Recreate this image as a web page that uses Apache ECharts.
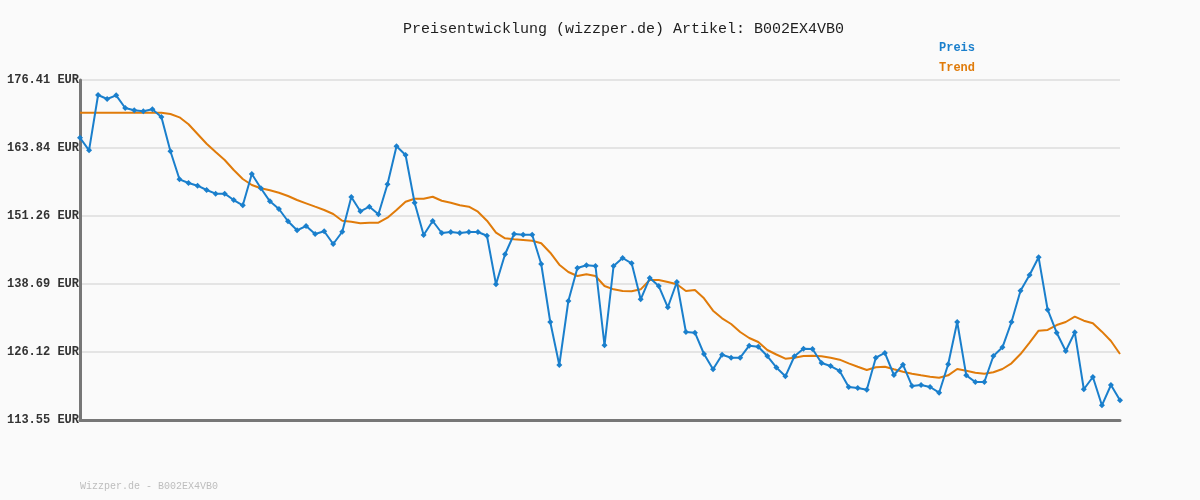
<!DOCTYPE html>
<html>
<head>
<meta charset="utf-8">
<script src="https://cdn.jsdelivr.net/npm/echarts@6/dist/echarts.min.js"></script>
<style>
html,body{margin:0;padding:0;background:#fafafa;}
#chart{width:1200px;height:500px;}
</style>
</head>
<body>
<div id="chart"></div>
<script>
var titleText = 'Preisentwicklung (wizzper.de) Artikel: B002EX4VB0';
var footerText = 'Wizzper.de - B002EX4VB0';
var yTickLabels = ['113.55', '126.12', '138.69', '151.26', '163.84', '176.41'];
var yMin = 113.55;
var yMax = 176.41;

var preis = [
  165.74, 163.41, 173.64, 172.90, 173.58, 171.23, 170.81, 170.62, 170.99, 169.57,
  163.23, 158.05, 157.37, 156.87, 156.07, 155.39, 155.39, 154.22, 153.24, 159.03,
  156.39, 153.98, 152.56, 150.29, 148.62, 149.42, 147.94, 148.44, 146.09, 148.36,
  154.78, 152.14, 152.99, 151.58, 157.15, 164.17, 162.54, 153.72, 147.75, 150.34,
  148.12, 148.31, 148.12, 148.31, 148.31, 147.62, 138.64, 144.19, 147.94, 147.81,
  147.81, 142.39, 131.67, 123.72, 135.55, 141.65, 142.15, 142.02, 127.36, 142.02,
  143.50, 142.52, 135.87, 139.80, 138.32, 134.39, 139.06, 129.82, 129.69, 125.75,
  122.92, 125.62, 125.07, 125.07, 127.29, 127.10, 125.38, 123.26, 121.63, 125.33,
  126.73, 126.68, 124.09, 123.53, 122.61, 119.65, 119.47, 119.15, 125.07, 125.94,
  121.87, 123.77, 119.84, 120.02, 119.65, 118.60, 123.85, 131.67, 121.81, 120.58,
  120.58, 125.38, 126.99, 131.67, 137.46, 140.36, 143.63, 133.94, 129.69, 126.31,
  129.76, 119.23, 121.50, 116.27, 120.02, 117.19
];

var trend = [
  170.36, 170.36, 170.36, 170.36, 170.36, 170.36, 170.36, 170.36, 170.36, 170.36,
  170.12, 169.51, 168.22, 166.43, 164.63, 163.10, 161.62, 159.77, 158.11, 157.00,
  156.39, 156.02, 155.57, 154.96, 154.22, 153.61, 152.99, 152.38, 151.64, 150.40,
  150.21, 149.92, 150.03, 150.03, 150.95, 152.38, 153.91, 154.46, 154.46, 154.83,
  154.09, 153.72, 153.24, 152.99, 152.06, 150.40, 148.18, 147.14, 146.96, 146.83,
  146.70, 146.22, 144.48, 142.26, 140.91, 140.17, 140.49, 140.17, 138.32, 137.71,
  137.40, 137.34, 137.71, 139.43, 139.43, 139.06, 138.64, 137.40, 137.59, 136.05,
  133.76, 132.35, 131.30, 129.82, 128.71, 127.97, 126.49, 125.66, 124.88, 125.07,
  125.38, 125.44, 125.33, 125.07, 124.70, 124.03, 123.40, 122.79, 123.29, 123.40,
  122.92, 122.48, 122.11, 121.81, 121.56, 121.37, 121.81, 122.98, 122.66, 122.30,
  122.11, 122.37, 122.98, 124.03, 125.75, 127.84, 130.06, 130.19, 131.11, 131.67,
  132.65, 131.91, 131.43, 129.88, 128.16, 125.75
];

var categories = preis.map(function (v, i) { return String(i + 1); });

var yInterval = (yMax - yMin) / (yTickLabels.length - 1);

var chart = echarts.init(document.getElementById('chart'), null, {renderer: 'canvas'});
chart.setOption({
  backgroundColor: '#fafafa',
  animation: false,
  title: {
    text: titleText,
    left: 398,
    top: 17,
    textStyle: {
      fontFamily: 'Liberation Mono',
      fontSize: 15,
      fontWeight: 'normal',
      color: '#1e1e1e'
    }
  },
  graphic: [{
    type: 'text',
    left: 80,
    top: 481,
    style: {
      text: footerText,
      font: '10px "Liberation Mono"',
      fill: '#bdbdbd'
    }
  }],
  legend: {
    orient: 'vertical',
    left: 929,
    top: 37,
    itemWidth: 0,
    itemHeight: 0,
    itemGap: 8,
    icon: 'rect',
    data: [
      {name: 'Preis', textStyle: {color: '#1a7fcc'}},
      {name: 'Trend', textStyle: {color: '#e07b0a'}}
    ],
    textStyle: {
      fontFamily: 'Liberation Mono',
      fontSize: 12,
      fontWeight: 'bold'
    }
  },
  grid: {left: 80, right: 80, top: 80, bottom: 80, containLabel: false},
  xAxis: {
    type: 'category',
    data: categories,
    boundaryGap: false,
    axisLine: {show: true, lineStyle: {color: '#777', width: 3}},
    axisTick: {show: false},
    axisLabel: {show: false},
    splitLine: {show: false}
  },
  yAxis: {
    type: 'value',
    min: yMin,
    max: yMax,
    interval: yInterval,
    axisLine: {show: true, lineStyle: {color: '#777', width: 3}},
    axisTick: {show: false},
    axisLabel: {
      margin: 1,
      fontFamily: 'Liberation Mono',
      fontSize: 12,
      fontWeight: 'bold',
      color: '#333',
      formatter: function (v) {
        var idx = Math.round((v - yMin) / yInterval);
        return yTickLabels[idx] + ' EUR';
      }
    },
    splitLine: {show: true, lineStyle: {color: '#e4e4e4', width: 2}}
  },
  series: [
    {
      name: 'Preis',
      type: 'line',
      data: preis,
      z: 3,
      symbol: 'diamond',
      symbolSize: 6,
      showSymbol: true,
      showAllSymbol: true,
      itemStyle: {color: '#1a7fcc'},
      lineStyle: {color: '#1a7fcc', width: 2}
    },
    {
      name: 'Trend',
      type: 'line',
      data: trend,
      z: 2,
      symbol: 'none',
      itemStyle: {color: '#e07b0a'},
      lineStyle: {color: '#e07b0a', width: 2}
    }
  ]
});
</script>
</body>
</html>
